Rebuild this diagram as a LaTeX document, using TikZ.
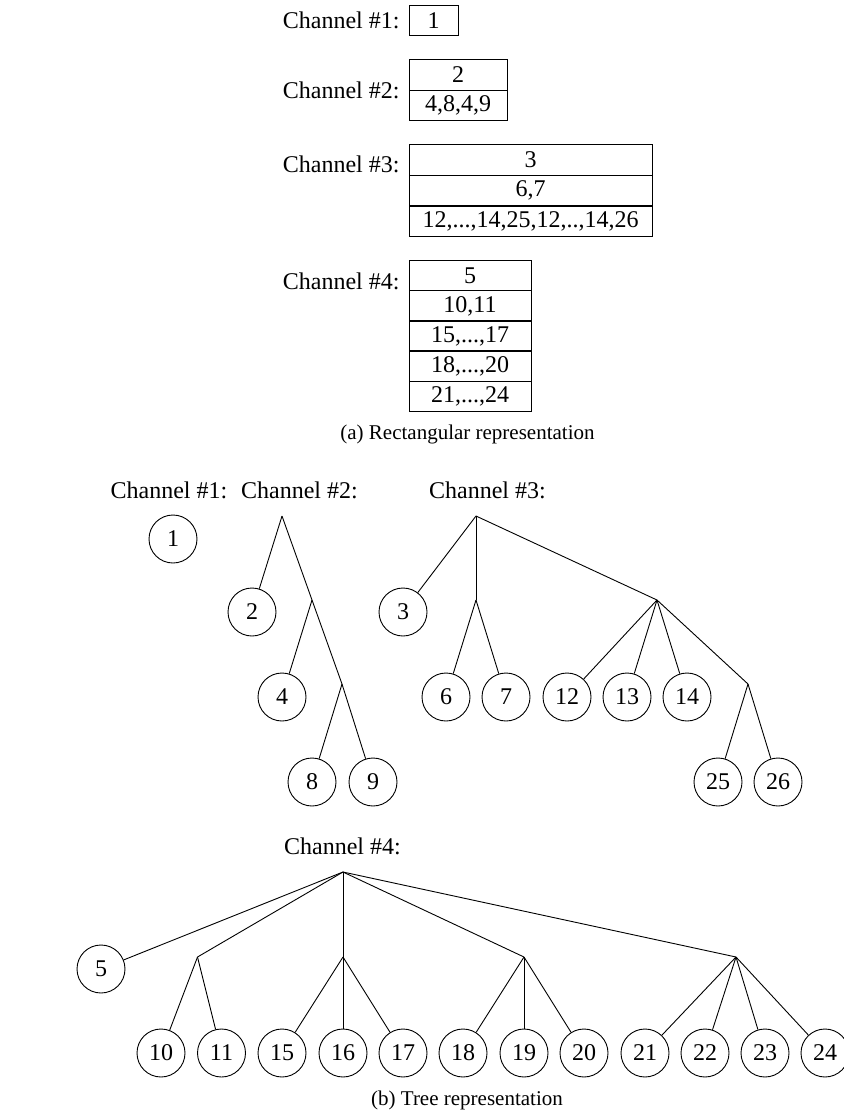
\documentclass[tikz,border=0pt]{standalone}
\usepackage{fontspec}
\setmainfont{Liberation Serif}
\begin{document}
\begin{tikzpicture}[x=1pt,y=-1pt,line width=0.9pt,
  lab/.style={font=\fontsize{24}{28}\selectfont, inner sep=0pt},
  capt/.style={font=\fontsize{21}{25}\selectfont, inner sep=0pt},
  cell/.style={draw, rectangle, inner sep=0pt, minimum height=30.5pt, font=\fontsize{24}{28}\selectfont},
  leaf/.style={draw, circle, inner sep=0pt, minimum size=48pt, font=\fontsize{24}{28}\selectfont}]
\useasboundingbox (0,0) rectangle (844,1112);

% ---------- (a) rectangular representation ----------
\node[lab, anchor=east] (l1) at (400,20.5) {Channel \#1:};
\node[cell, minimum width=49pt] (b1) at (433.5,20.5) {1};

\node[lab, anchor=east] (l2) at (400,90.5) {Channel \#2:};
\node[cell, minimum width=98pt] (b2a) at (458,75) {2};
\node[cell, minimum width=98pt] (b2b) at (458,105.5) {4,8,4,9};

\node[lab, anchor=east] (l3) at (400,164) {Channel \#3:};
\node[cell, minimum width=243pt] (b3a) at (530.5,160) {3};
\node[cell, minimum width=243pt] (b3b) at (530.5,190.5) {6,7};
\node[cell, minimum width=243pt] (b3c) at (530.5,221.5) {12,...,14,25,12,..,14,26};

\node[lab, anchor=east] (l4) at (400,281) {Channel \#4:};
\node[cell, minimum width=122pt] (b4a) at (470,275.5) {5};
\node[cell, minimum width=122pt] (b4b) at (470,306) {10,11};
\node[cell, minimum width=122pt] (b4c) at (470,336) {15,...,17};
\node[cell, minimum width=122pt] (b4d) at (470,366) {18,...,20};
\node[cell, minimum width=122pt] (b4e) at (470,396.5) {21,...,24};

\node[capt] (capa) at (467.5,434) {(a) Rectangular representation};

% ---------- (b) tree representation ----------
\node[lab] (t1) at (169,490) {Channel \#1:};
\node[lab] (t2) at (299.5,490) {Channel \#2:};
\node[lab] (t3) at (487.5,490) {Channel \#3:};

% channel 1
\node[leaf] (n1) at (173,539) {1};

% channel 2
\coordinate (r2) at (282,516);
\coordinate (a2) at (312,600);
\coordinate (b2) at (342,684);
\node[leaf] (n2) at (252,612) {2};
\node[leaf] (n4) at (282,697) {4};
\node[leaf] (n8) at (312,782) {8};
\node[leaf] (n9) at (373,782) {9};
\draw (r2) -- (n2);
\draw (r2) -- (a2);
\draw (a2) -- (n4);
\draw (a2) -- (b2);
\draw (b2) -- (n8);
\draw (b2) -- (n9);

% channel 3
\coordinate (r3) at (476,516);
\coordinate (c3) at (476,600);
\coordinate (d3) at (657,600);
\coordinate (e3) at (748,684);
\node[leaf] (n3) at (403,612) {3};
\node[leaf] (n6) at (446,697) {6};
\node[leaf] (n7) at (506,697) {7};
\node[leaf] (n12) at (567,697) {12};
\node[leaf] (n13) at (627,697) {13};
\node[leaf] (n14) at (687,697) {14};
\node[leaf] (n25) at (718,782) {25};
\node[leaf] (n26) at (778,782) {26};
\draw (r3) -- (n3);
\draw (r3) -- (c3);
\draw (c3) -- (n6);
\draw (c3) -- (n7);
\draw (r3) -- (d3);
\draw (d3) -- (n12);
\draw (d3) -- (n13);
\draw (d3) -- (n14);
\draw (d3) -- (e3);
\draw (e3) -- (n25);
\draw (e3) -- (n26);

% channel 4
\node[lab] (t4) at (342.5,846) {Channel \#4:};
\coordinate (r4) at (343,872);
\coordinate (f1) at (197.5,957);
\coordinate (f2) at (343,957);
\coordinate (f3) at (524,957);
\coordinate (f4) at (736,957);
\node[leaf] (n5) at (101,969) {5};
\node[leaf] (n10) at (161,1053) {10};
\node[leaf] (n11) at (221.5,1053) {11};
\node[leaf] (n15) at (282,1053) {15};
\node[leaf] (n16) at (343,1053) {16};
\node[leaf] (n17) at (403,1053) {17};
\node[leaf] (n18) at (463,1053) {18};
\node[leaf] (n19) at (524,1053) {19};
\node[leaf] (n20) at (584,1053) {20};
\node[leaf] (n21) at (645,1053) {21};
\node[leaf] (n22) at (705,1053) {22};
\node[leaf] (n23) at (765,1053) {23};
\node[leaf] (n24) at (825,1053) {24};
\draw (r4) -- (n5);
\draw (r4) -- (f1);
\draw (r4) -- (f2);
\draw (r4) -- (f3);
\draw (r4) -- (f4);
\draw (f1) -- (n10);
\draw (f1) -- (n11);
\draw (f2) -- (n15);
\draw (f2) -- (n16);
\draw (f2) -- (n17);
\draw (f3) -- (n18);
\draw (f3) -- (n19);
\draw (f3) -- (n20);
\draw (f4) -- (n21);
\draw (f4) -- (n22);
\draw (f4) -- (n23);
\draw (f4) -- (n24);

\node[capt] (capb) at (467,1100) {(b) Tree representation};
\end{tikzpicture}
\end{document}
